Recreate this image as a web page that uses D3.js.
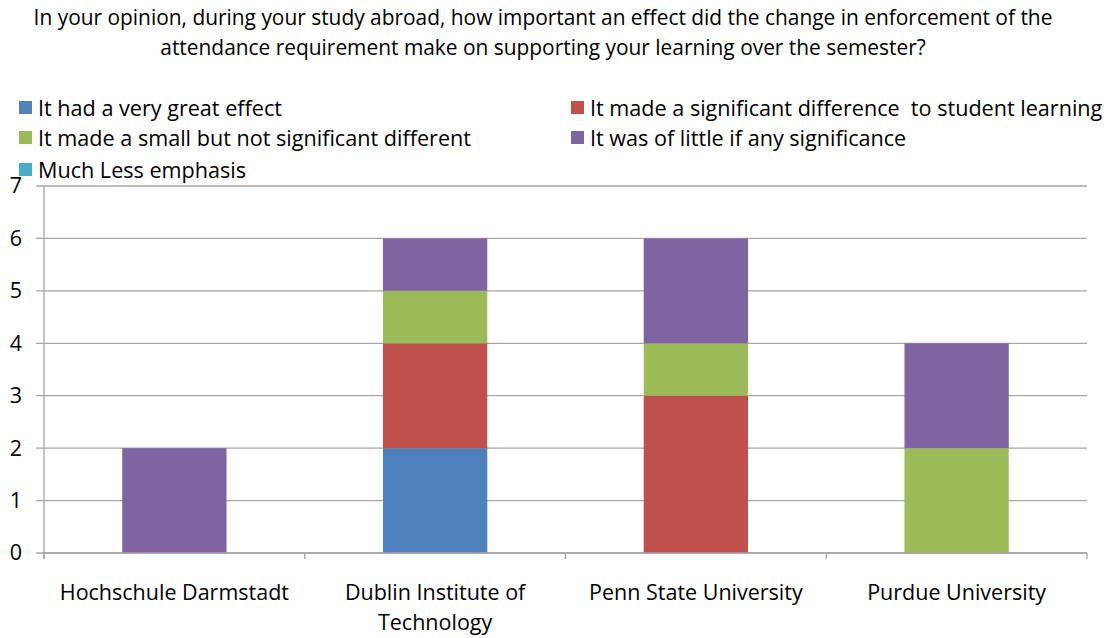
<!DOCTYPE html>
<html>
<head>
<meta charset="utf-8">
<script src="https://cdn.jsdelivr.net/npm/d3@7"></script>
<style>
  body { margin: 0; background: #fff; }
  svg { font-family: "Open Sans", Lato, sans-serif; }
</style>
</head>
<body>
<svg id="chart" width="1109" height="638"></svg>
<script>
// data
const titleLines = [
    'In your opinion, during your study abroad, how important an effect did the change in enforcement of the',
    'attendance requirement make on supporting your learning over the semester?'
];
const schools = ['Hochschule Darmstadt', 'Dublin Institute of Technology', 'Penn State University', 'Purdue University'];
const seriesNames = [
    'It had a very great effect',
    'It made a significant difference  to student learning',
    'It made a small but not significant different',
    'It was of little if any significance',
    'Much Less emphasis'
];
const veryGreat   = [0, 2, 0, 0];
const significant = [0, 2, 3, 0];
const smallEffect = [0, 1, 1, 2];
const littleIfAny = [2, 1, 2, 2];
const muchLess    = [0, 0, 0, 0];
const yTicks = [0, 1, 2, 3, 4, 5, 6, 7];

const colors = ['#4F81BD', '#C0504D', '#9BBB59', '#8064A2', '#4BACC6'];

let svg = d3.select('#chart');

//TITLE
svg.selectAll('text.title')
    .data(titleLines)
    .enter()
    .append('text')
    .attr('class', 'title')
    .attr('x', 543)
    .attr('y', (d, i) => 25 + i * 30)
    .attr('text-anchor', 'middle')
    .attr('font-size', 20.9)
    .attr('fill', '#000')
    .text(d => d);

//LEGEND
let legendPos = [[19, 108], [571, 108], [19, 138], [571, 138], [19, 170]];
let legend = svg.selectAll('g.legend')
    .data(seriesNames)
    .enter()
    .append('g')
    .attr('class', 'legend')
    .attr('transform', (d, i) => `translate(${legendPos[i][0]},${legendPos[i][1]})`);

legend.append('rect')
    .attr('x', 0)
    .attr('y', -7)
    .attr('width', 13)
    .attr('height', 13)
    .attr('fill', (d, i) => colors[i]);

legend.append('text')
    .attr('x', 19)
    .attr('y', 0)
    .attr('dy', '0.35em')
    .attr('font-size', 21.6)
    .attr('fill', '#000')
    .style('white-space', 'pre')
    .text(d => d);

//SCALES
let x = d3.scaleBand().domain(schools).range([44, 1087]).paddingInner(0.6).paddingOuter(0.3);
let xOuter = d3.scaleBand().domain(schools).range([44, 1087]);
let y = d3.scaleLinear().domain([0, 7]).range([553, 186]);

//GRIDLINES
svg.append('g')
    .selectAll('line')
    .data(yTicks)
    .enter()
    .append('line')
    .attr('x1', 36)
    .attr('x2', 1087)
    .attr('y1', d => y(d))
    .attr('y2', d => y(d))
    .attr('stroke', '#A6A6A6')
    .attr('stroke-width', 1.3);

//STACKED BARS
let rows = schools.map((s, i) => ({
    school: s,
    v0: veryGreat[i], v1: significant[i], v2: smallEffect[i], v3: littleIfAny[i], v4: muchLess[i]
}));
let stacked = d3.stack().keys(['v0', 'v1', 'v2', 'v3', 'v4'])(rows);

svg.append('g')
    .selectAll('g')
    .data(stacked)
    .enter()
    .append('g')
    .attr('fill', (d, i) => colors[i])
    .selectAll('rect')
    .data(d => d)
    .enter()
    .append('rect')
    .attr('x', d => x(d.data.school))
    .attr('width', x.bandwidth())
    .attr('y', d => y(d[1]))
    .attr('height', d => y(d[0]) - y(d[1]));

//Y AXIS
let yAxis = svg.append('g')
    .attr('transform', 'translate(44,0)')
    .call(d3.axisLeft(y).tickValues(yTicks).tickSize(0).tickPadding(22).tickFormat(d3.format('d')));
yAxis.select('.domain').attr('stroke', '#A6A6A6').attr('stroke-width', 1.3).attr('d', 'M0,186V559');
yAxis.selectAll('text').attr('font-size', 21.5).attr('font-family', '"Open Sans", sans-serif').attr('fill', '#000');

//X AXIS
let xAxis = svg.append('g')
    .attr('transform', 'translate(0,553)');
xAxis.append('line')
    .attr('x1', 44).attr('x2', 1087)
    .attr('stroke', '#A6A6A6').attr('stroke-width', 1.3);
xAxis.selectAll('line.tick')
    .data(schools.concat(['end']))
    .enter()
    .append('line')
    .attr('class', 'tick')
    .attr('x1', (d, i) => i < schools.length ? xOuter(d) : 1087)
    .attr('x2', (d, i) => i < schools.length ? xOuter(d) : 1087)
    .attr('y1', 0).attr('y2', 6)
    .attr('stroke', '#A6A6A6').attr('stroke-width', 1.3);

// wrap labels like the original
let labelLines = [['Hochschule Darmstadt'], ['Dublin Institute of', 'Technology'], ['Penn State University'], ['Purdue University']];
xAxis.selectAll('text.cat')
    .data(schools)
    .enter()
    .append('text')
    .attr('class', 'cat')
    .attr('x', d => xOuter(d) + xOuter.bandwidth() / 2)
    .attr('y', 47)
    .attr('text-anchor', 'middle')
    .attr('font-size', 21.5)
    .attr('fill', '#000')
    .each(function(d, i) {
        let t = d3.select(this);
        labelLines[i].forEach(function(line, j) {
            t.append('tspan')
                .attr('x', xOuter(d) + xOuter.bandwidth() / 2)
                .attr('dy', j === 0 ? 0 : 30)
                .text(line);
        });
    });
</script>
</body>
</html>
